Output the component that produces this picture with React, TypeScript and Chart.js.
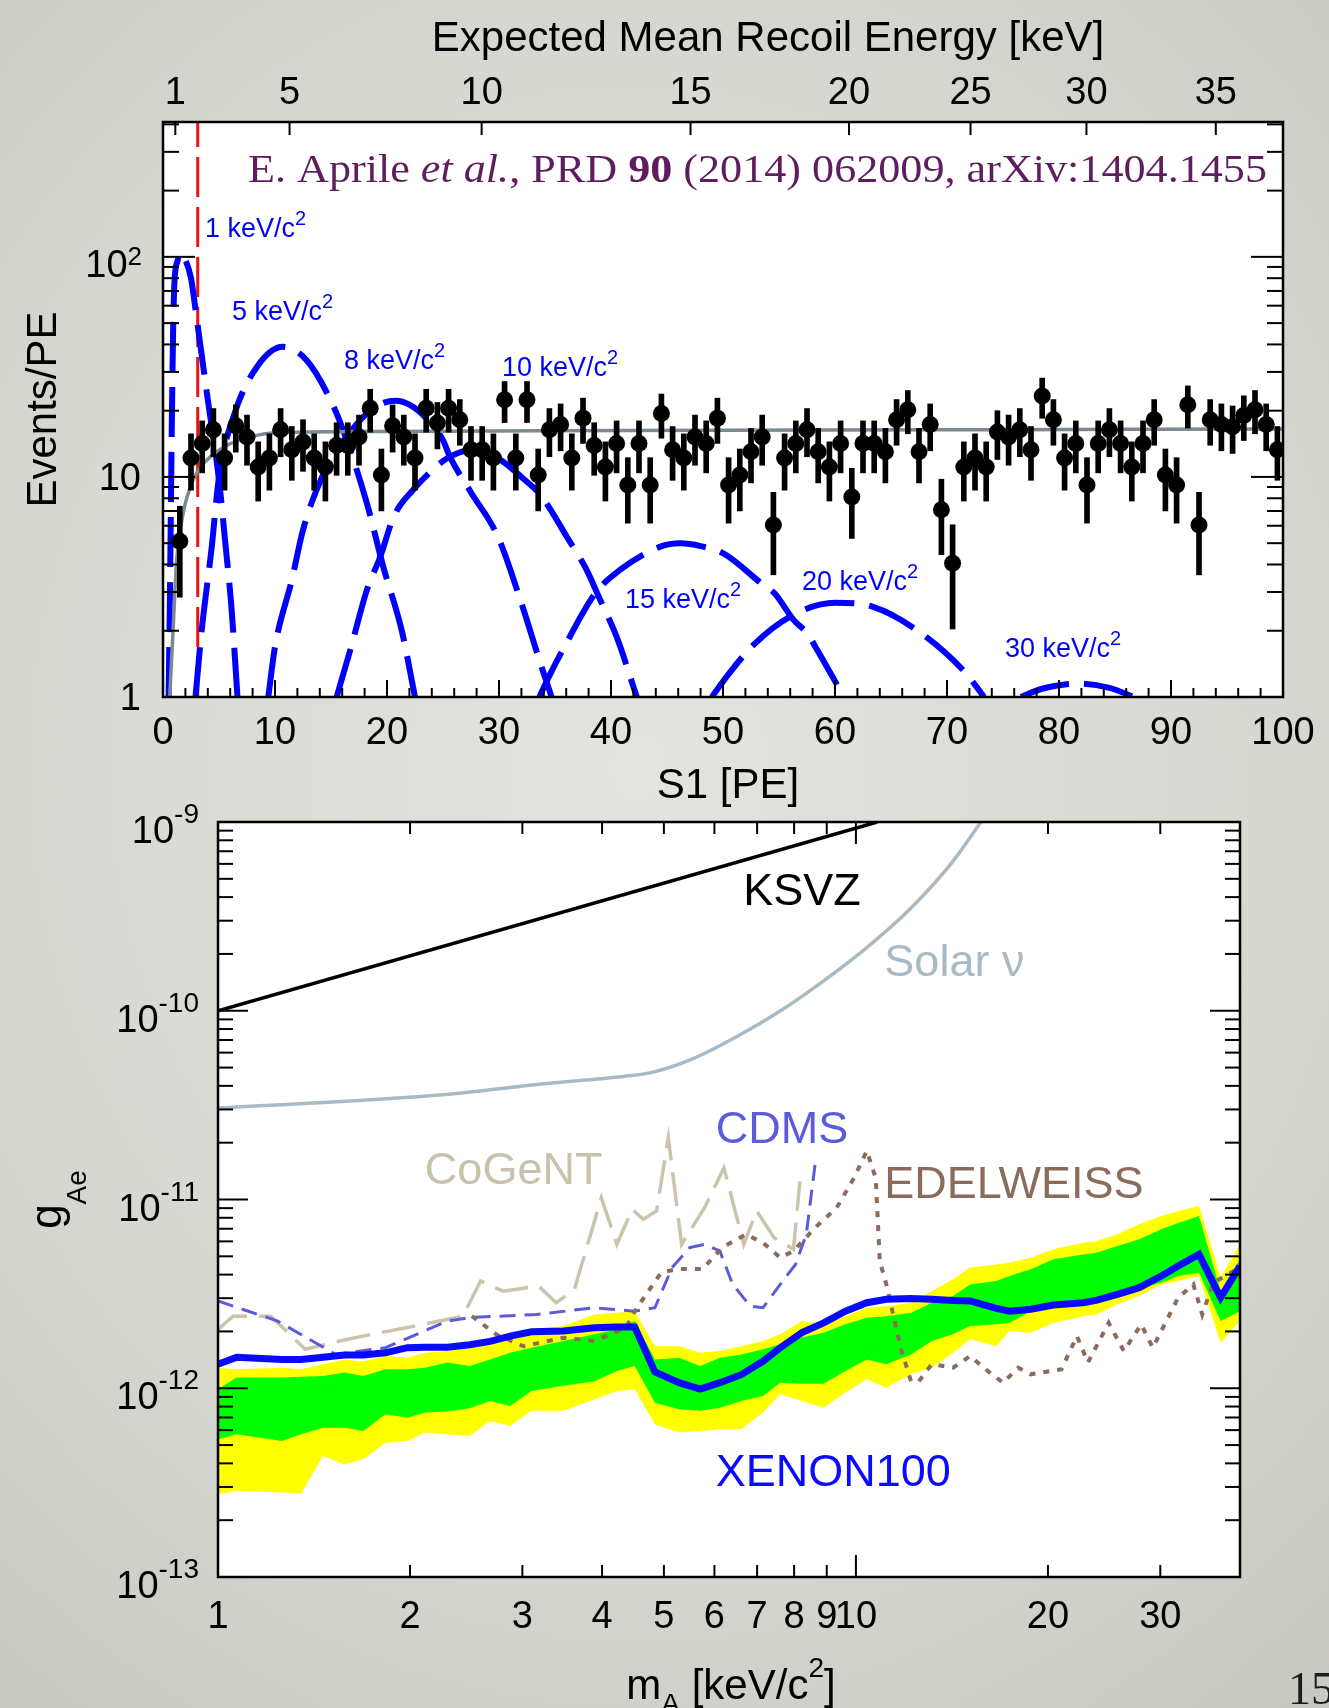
import React, { useEffect, useRef } from "react";
import { Chart, registerables } from "chart.js";

Chart.register(...registerables);

const PAGE_W = 1329;
const PAGE_H = 1708;
const SANS = '"Liberation Sans", Arial, Helvetica, sans-serif';
const SERIF = '"Liberation Serif", "Times New Roman", serif';

/* ================= Top panel: S1 spectrum ================= */
const s1BinCenters = [
  1.5, 2.5, 3.5, 4.5, 5.5, 6.5, 7.5, 8.5, 9.5, 10.5,
  11.5, 12.5, 13.5, 14.5, 15.5, 16.5, 17.5, 18.5, 19.5, 20.5,
  21.5, 22.5, 23.5, 24.5, 25.5, 26.5, 27.5, 28.5, 29.5, 30.5,
  31.5, 32.5, 33.5, 34.5, 35.5, 36.5, 37.5, 38.5, 39.5, 40.5,
  41.5, 42.5, 43.5, 44.5, 45.5, 46.5, 47.5, 48.5, 49.5, 50.5,
  51.5, 52.5, 53.5, 54.5, 55.5, 56.5, 57.5, 58.5, 59.5, 60.5,
  61.5, 62.5, 63.5, 64.5, 65.5, 66.5, 67.5, 68.5, 69.5, 70.5,
  71.5, 72.5, 73.5, 74.5, 75.5, 76.5, 77.5, 78.5, 79.5, 80.5,
  81.5, 82.5, 83.5, 84.5, 85.5, 86.5, 87.5, 88.5, 89.5, 90.5,
  91.5, 92.5, 93.5, 94.5, 95.5, 96.5, 97.5, 98.5, 99.5,
];
const eventsPerPE = [
  5.1, 12.2, 14.2, 16.4, 12.2, 17.1, 15.2, 11.1, 12.2, 16.4,
  13.3, 14.4, 12.2, 11.1, 13.9, 13.9, 15.2, 20.5, 10.2, 17.1,
  15.2, 12.2, 20.5, 17.6, 20.5, 18.2, 13.3, 13.3, 12.2, 22.4,
  12.2, 22.4, 10.2, 16.4, 17.3, 12.2, 18.5, 13.9, 11.1, 14.2,
  9.2, 14.2, 9.2, 19.4, 13.3, 12.2, 15.2, 14.2, 18.5, 9.2,
  10.2, 13.0, 15.2, 6.05, 12.2, 14.2, 16.4, 13.0, 11.1, 14.2,
  8.1, 14.2, 14.2, 13.0, 18.2, 20.2, 13.0, 17.3, 7.1, 4.05,
  11.1, 12.2, 11.1, 16.0, 15.2, 16.4, 13.3, 23.3, 18.2, 12.2,
  14.2, 9.2, 14.2, 16.4, 14.2, 11.1, 14.2, 18.2, 10.2, 9.2,
  21.3, 6.05, 18.2, 17.3, 16.9, 19.0, 20.2, 17.3, 13.3,
];

const bkgS1 = [0.6, 0.9, 1.2, 1.8, 2.7, 3.9, 5.7, 7.8, 10.4, 20, 50, 75, 100];
const bkgRate = [1.0, 2.02, 4.05, 6.83, 9.7, 11.9, 13.9, 15.2, 15.9, 16.1, 16.3, 16.4, 16.5];

const sig1S1 = [0.5, 0.6, 0.7, 0.8, 0.9, 1.0, 1.3, 1.6, 2.0, 2.5, 3.0, 4.0, 5.0, 5.6, 6.1, 6.65];
const sig1Rate = [1, 2.4, 6.9, 19.6, 45, 73, 96, 104, 97, 80, 53, 22.4, 9.7, 4.8, 2.6, 1];
const sig5S1 = [2.9, 3.45, 4.35, 5.0, 6.4, 8.4, 10.7, 12.8, 15.1, 16.4, 18.2, 19.7, 21.3, 22.5];
const sig5Rate = [1, 2.0, 4.8, 10, 19.5, 31.7, 39, 34, 21.6, 14.7, 7.6, 3.85, 2.02, 1];
const sig8S1 = [9.4, 10.0, 11.5, 12.5, 13.7, 15.0, 16.5, 18.0, 19.5, 20.8, 22.0, 23.5, 25.0, 25.6, 27.5, 29.9, 32.0, 33.7, 34.7];
const sig8Rate = [1, 1.69, 3.4, 5.74, 8.7, 12, 15.5, 19, 21.5, 22.2, 21.3, 18.5, 14.7, 12.4, 8.5, 5.35, 2.67, 1.42, 1];
const sig10S1 = [15.5, 16.8, 18.2, 19.4, 20.6, 22.3, 24.1, 25.3, 27.3, 29.0, 30.4, 32.0, 33.7, 34.6, 36.0, 37.8, 38.9, 40.5, 42.3];
const sig10Rate = [1, 1.69, 3.06, 4.34, 6.6, 8.7, 10.8, 12.1, 13.2, 12.8, 11.7, 10.0, 8.3, 7.1, 5.4, 3.8, 2.86, 1.88, 1];
const sig15S1 = [33.6, 34.6, 35.7, 38.6, 40.8, 44.4, 46.2, 48.0, 50.0, 53.6, 54.6, 56.3, 57.5, 58.4, 60.8];
const sig15Rate = [1, 1.28, 1.64, 2.96, 3.78, 4.82, 4.99, 4.85, 4.5, 3.23, 2.96, 2.24, 1.95, 1.64, 1];
const sig20S1 = [49.0, 50.5, 52.7, 56.0, 60.0, 63.4, 67.5, 71.7, 73.3];
const sig20Rate = [1, 1.27, 1.72, 2.32, 2.68, 2.57, 1.98, 1.28, 1];
const sig30S1 = [76.6, 78.5, 81.6, 84.5, 86.7];
const sig30Rate = [1, 1.09, 1.15, 1.1, 1];

const signalCurves = [
  { mass: "1", s1: sig1S1, rate: sig1Rate },
  { mass: "5", s1: sig5S1, rate: sig5Rate },
  { mass: "8", s1: sig8S1, rate: sig8Rate },
  { mass: "10", s1: sig10S1, rate: sig10Rate },
  { mass: "15", s1: sig15S1, rate: sig15Rate },
  { mass: "20", s1: sig20S1, rate: sig20Rate },
  { mass: "30", s1: sig30S1, rate: sig30Rate },
];
// label anchors (left edge / baseline) in data coordinates
const signalLabelS1 = [3.75, 6.16, 16.16, 30.27, 41.25, 57.05, 75.18];
const signalLabelRate = [123, 51.7, 31.0, 28.8, 2.54, 3.06, 1.52];

const thresholdS1 = 3.1;
const rateAxisMin = 1;
const rateAxisMax = 410;
const s1TickValues = [0, 10, 20, 30, 40, 50, 60, 70, 80, 90, 100];
const energyTickLabels = ["1", "5", "10", "15", "20", "25", "30", "35"];
const energyTickS1 = [1.1, 11.3, 28.45, 47.1, 61.25, 72.1, 82.45, 94.0];

/* ================= Bottom panel: g_Ae limits ================= */
const G_UNIT = 1e-12;
const bandMass = [
  1.0, 1.07, 1.26, 1.35, 1.46, 1.58, 1.69, 1.83, 1.98, 2.11,
  2.29, 2.48, 2.67, 2.87, 3.1, 3.48, 3.89, 4.22, 4.5, 4.84,
  5.28, 5.7, 6.12, 6.61, 7.15, 7.61, 8.23, 8.9, 9.63, 10.4,
  11.16, 12.2, 13.15, 14.2, 15.1, 16.6, 17.4, 18.8, 20.4, 22.7,
  23.8, 25.7, 27.8, 30.1, 32.0, 34.5, 37.3, 40.0,
];
const xenonLimit = [
  1.34, 1.46, 1.42, 1.42, 1.46, 1.50, 1.50, 1.54, 1.64, 1.65,
  1.65, 1.70, 1.77, 1.89, 1.99, 2.01, 2.09, 2.11, 2.11, 1.22,
  1.07, 0.99, 1.07, 1.18, 1.39, 1.64, 1.97, 2.22, 2.56, 2.84,
  2.96, 2.99, 2.96, 2.92, 2.90, 2.65, 2.56, 2.62, 2.76, 2.84,
  2.92, 3.14, 3.41, 3.93, 4.44, 5.12, 3.02, 4.44,
];
const band2SigmaHigh = [
  1.285, 1.26, 1.285, 1.26, 1.34, 1.42, 1.39, 1.48, 1.45, 1.54,
  1.575, 1.64, 1.71, 1.89, 2.05, 2.14, 2.46, 2.51, 2.56, 1.67,
  1.67, 1.54, 1.575, 1.67, 1.78, 1.93, 2.27, 2.18, 2.41, 2.67,
  2.72, 2.84, 3.27, 3.78, 4.36, 4.53, 4.62, 4.92, 5.45, 5.9,
  6.0, 6.54, 7.39, 8.18, 8.7, 9.24, 3.86, 5.79,
];
const band1SigmaHigh = [
  0.987, 1.14, 1.14, 1.15, 1.16, 1.21, 1.16, 1.26, 1.26, 1.285,
  1.37, 1.31, 1.42, 1.54, 1.64, 1.78, 1.93, 2.05, 2.27, 1.42,
  1.45, 1.31, 1.45, 1.51, 1.61, 1.71, 1.86, 1.97, 2.18, 2.36,
  2.41, 2.51, 2.84, 3.08, 3.55, 3.70, 3.93, 4.27, 4.82, 5.12,
  5.23, 5.67, 6.15, 6.95, 7.5, 8.18, 3.27, 4.82,
];
const band1SigmaLow = [
  0.536, 0.57, 0.525, 0.57, 0.618, 0.618, 0.594, 0.728, 0.698, 0.743,
  0.752, 0.783, 0.856, 0.805, 0.967, 1.03, 1.09, 1.234, 1.31, 0.839,
  0.773, 0.759, 0.789, 0.856, 0.91, 1.07, 1.057, 1.057, 1.234, 1.42,
  1.34, 1.51, 1.78, 1.93, 2.14, 2.18, 2.22, 2.56, 2.67, 2.90,
  2.96, 3.2, 3.41, 3.62, 3.93, 4.10, 2.27, 2.56,
];
const band2SigmaLow = [
  0.274, 0.286, 0.28, 0.276, 0.4375, 0.395, 0.42, 0.515, 0.525, 0.582,
  0.57, 0.558, 0.671, 0.631, 0.759, 0.759, 0.874, 0.967, 0.987, 0.644,
  0.582, 0.594, 0.606, 0.606, 0.743, 0.929, 0.856, 0.789, 0.95, 1.115,
  1.007, 1.185, 1.285, 1.54, 1.82, 1.67, 2.01, 1.97, 2.22, 2.41,
  2.46, 2.79, 3.08, 3.55, 3.70, 3.93, 1.74, 2.27,
];

const cdmsMass = [1.0, 1.24, 1.53, 1.83, 2.29, 2.48, 3.16, 3.89, 4.5, 4.84, 5.15, 5.49, 5.79, 6.12, 6.41, 6.83, 7.15, 7.61, 8.04, 8.36, 8.63];
const cdmsG = [2.90, 2.27, 1.51, 1.64, 2.27, 2.37, 2.46, 2.67, 2.56, 2.67, 4.36, 5.56, 5.79, 5.33, 3.55, 2.72, 2.67, 3.55, 4.53, 6.54, 15.4];

const cogentMass = [1.0, 1.056, 1.21, 1.37, 1.55, 1.74, 2.04, 2.42, 2.58, 2.80, 3.18, 3.39, 3.62, 3.99, 4.22, 4.46, 4.64, 4.87, 5.08, 5.33, 5.79, 6.21, 6.67, 6.99, 7.44, 7.98, 8.17];
const cogentG = [2.05, 2.41, 2.41, 1.61, 1.78, 1.93, 2.14, 2.41, 3.70, 3.27, 3.48, 2.84, 3.34, 10.2, 5.79, 8.88, 7.85, 8.7, 21.3, 5.79, 9.05, 14.7, 5.79, 8.7, 6.28, 5.45, 12.5];

const edelweissMass = [
  2.50, 2.73, 3.01, 3.48, 3.89, 4.36, 4.5, 4.95, 5.24, 5.75,
  6.17, 6.72, 7.15, 7.61, 7.98, 8.63, 9.33, 9.93, 10.4, 10.74,
  10.9, 11.16, 11.79, 12.2, 12.55, 13.15, 14.2, 15.1, 16.1, 17.0,
  17.97, 18.8, 21.0, 22.2, 23.1, 24.9, 26.3, 28.0, 29.2, 32.0,
  33.8, 34.9, 36.3, 40.0,
];
const edelweissG = [
  2.41, 1.93, 1.67, 1.85, 1.78, 2.09, 2.56, 4.10, 4.28, 4.28,
  5.56, 6.54, 5.9, 4.92, 5.33, 7.09, 9.05, 13.0, 18.1, 13.0,
  4.72, 3.55, 1.575, 1.09, 1.09, 1.34, 1.285, 1.48, 1.234, 1.07,
  1.285, 1.185, 1.26, 1.89, 1.37, 2.22, 1.575, 2.18, 1.64, 3.02,
  3.55, 2.46, 3.62, 4.36,
];

const ksvzMass = [1.0, 10.8];
const ksvzG = [100, 1000];

const solarMass = [1.0, 2.28, 3.16, 4.35, 4.77, 5.57, 6.51, 7.62, 8.9, 10.4, 12.2, 14.2, 15.7];
const solarG = [30.5, 36, 40.7, 45, 47, 56, 73, 100, 144, 216, 350, 620, 1000];

const massAxisMin = 1;
const massAxisMax = 40;
const gAxisMin = 1e-13;
const gAxisMax = 1e-9;
const massTickLabels = [1, 2, 3, 4, 5, 6, 7, 8, 9, 10, 20, 30];
const gDecadeExponents = [-13, -12, -11, -10, -9];

// text annotations in data coordinates (left edge / baseline)
const bottomLabelText = ["KSVZ", "Solar \u03bd", "CDMS", "CoGeNT", "EDELWEISS", "XENON100"];
const bottomLabelMass = [6.66, 11.08, 6.03, 2.11, 11.08, 6.03];
const bottomLabelG = [363, 153, 19.9, 12.1, 10.2, 0.303];
const bottomLabelColor = ["#000000", "#a9bac4", "#5b5bdc", "#c9c2aa", "#8b6b5c", "#0a0aff"];

/* ================= helpers ================= */
const pts = (xs: number[], ys: number[], k = 1) => xs.map((x, i) => ({ x, y: ys[i] * k }));

function seg(ctx: CanvasRenderingContext2D, x1: number, y1: number, x2: number, y2: number) {
  ctx.beginPath();
  ctx.moveTo(x1, y1);
  ctx.lineTo(x2, y2);
  ctx.stroke();
}

type Run = { t: string; f: string; dy?: number };
function runsWidth(ctx: CanvasRenderingContext2D, runs: Run[]) {
  let w = 0;
  for (const r of runs) {
    ctx.font = r.f;
    w += ctx.measureText(r.t).width;
  }
  return w;
}
function drawRuns(ctx: CanvasRenderingContext2D, runs: Run[], x: number, y: number, align: "left" | "center" | "right") {
  const w = runsWidth(ctx, runs);
  let cx = align === "left" ? x : align === "center" ? x - w / 2 : x - w;
  ctx.textAlign = "left";
  ctx.textBaseline = "alphabetic";
  for (const r of runs) {
    ctx.font = r.f;
    ctx.fillText(r.t, cx, y + (r.dy || 0));
    cx += ctx.measureText(r.t).width;
  }
}

const plotBgPlugin = {
  id: "plotBg",
  beforeDraw(chart: any) {
    const { ctx, chartArea: a } = chart;
    ctx.save();
    ctx.fillStyle = "#ffffff";
    ctx.fillRect(a.left, a.top, a.right - a.left, a.bottom - a.top);
    ctx.restore();
  },
};

/* ---------- top panel axes / labels ---------- */
const topAxesPlugin = {
  id: "topAxes",
  afterDraw(chart: any) {
    const { ctx, chartArea: a, scales } = chart;
    const x = scales.x;
    const y = scales.y;
    ctx.save();
    ctx.strokeStyle = "#000";
    ctx.lineWidth = 2;
    for (let v = 0; v <= 100; v += 2) {
      const px = x.getPixelForValue(v);
      seg(ctx, px, a.bottom, px, a.bottom - (v % 10 === 0 ? 17 : 9));
    }
    for (const s of energyTickS1) {
      const px = x.getPixelForValue(s);
      seg(ctx, px, a.top, px, a.top + 13);
    }
    for (const d of [1, 10, 100]) {
      for (let k = 1; k <= 9; k++) {
        const v = d * k;
        if (v > rateAxisMax) break;
        const py = y.getPixelForValue(v);
        const len = k === 1 ? 32 : 16;
        seg(ctx, a.left, py, a.left + len, py);
        seg(ctx, a.right, py, a.right - len, py);
      }
    }
    ctx.lineWidth = 2.5;
    ctx.strokeRect(a.left, a.top, a.right - a.left, a.bottom - a.top);

    ctx.fillStyle = "#000";
    ctx.font = `38px ${SANS}`;
    ctx.textAlign = "center";
    ctx.textBaseline = "alphabetic";
    for (const v of s1TickValues) ctx.fillText(String(v), x.getPixelForValue(v), a.bottom + 47);
    energyTickLabels.forEach((lab, i) => {
      ctx.font = `38px ${SANS}`;
      ctx.textAlign = "center";
      ctx.fillText(lab, x.getPixelForValue(energyTickS1[i]), a.top - 18);
    });
    {
      const p1 = y.getPixelForValue(1);
      const p10 = y.getPixelForValue(10);
      const p100 = y.getPixelForValue(100);
      drawRuns(ctx, [{ t: "1", f: `38px ${SANS}` }], a.left - 22, p1 + 13, "right");
      drawRuns(ctx, [{ t: "10", f: `38px ${SANS}` }], a.left - 22, p10 + 13, "right");
      drawRuns(ctx, [{ t: "10", f: `38px ${SANS}` }, { t: "2", f: `26px ${SANS}`, dy: -12 }], a.left - 21, p100 + 20, "right");
    }
    drawRuns(ctx, [{ t: "S1 [PE]", f: `42px ${SANS}` }], (a.left + a.right) / 2 + 5, a.bottom + 101, "center");
    drawRuns(ctx, [{ t: "Expected Mean Recoil Energy [keV]", f: `42px ${SANS}` }], (a.left + a.right) / 2 + 45, a.top - 71, "center");
    ctx.save();
    ctx.translate(56, (a.top + a.bottom) / 2);
    ctx.rotate(-Math.PI / 2);
    drawRuns(ctx, [{ t: "Events/PE", f: `42px ${SANS}` }], 0, 0, "center");
    ctx.restore();

    {
      const runs: Run[] = [
        { t: "E. Aprile ", f: `40px ${SERIF}` },
        { t: "et al.", f: `italic 40px ${SERIF}` },
        { t: ", PRD ", f: `40px ${SERIF}` },
        { t: "90", f: `bold 40px ${SERIF}` },
        { t: " (2014) 062009, arXiv:1404.1455", f: `40px ${SERIF}` },
      ];
      const w = runsWidth(ctx, runs);
      const targetW = 1019;
      ctx.save();
      ctx.fillStyle = "#5e1d5e";
      ctx.translate(a.left + 85, a.top + 60);
      ctx.scale(targetW / w, 1);
      drawRuns(ctx, runs, 0, 0, "left");
      ctx.restore();
    }

    ctx.fillStyle = "#0000ff";
    signalCurves.forEach((c, i) => {
      const lx = x.getPixelForValue(signalLabelS1[i]);
      const ly = y.getPixelForValue(signalLabelRate[i]);
      drawRuns(ctx, [
        { t: `${c.mass} keV/c`, f: `27px ${SANS}` },
        { t: "2", f: `20px ${SANS}`, dy: -12 },
      ], lx, ly, "left");
    });
    ctx.restore();
  },
};

/* ---------- bottom panel axes / labels ---------- */
const bottomAxesPlugin = {
  id: "bottomAxes",
  afterDraw(chart: any) {
    const { ctx, chartArea: a, scales } = chart;
    const x = scales.x;
    const y = scales.y;
    ctx.save();
    ctx.strokeStyle = "#000";
    ctx.lineWidth = 2;
    for (const d of [1, 10]) {
      for (let k = 1; k <= 9; k++) {
        const v = d * k;
        if (v > massAxisMax) break;
        const px = x.getPixelForValue(v);
        const len = k === 1 ? 22 : 12;
        seg(ctx, px, a.bottom, px, a.bottom - len);
        seg(ctx, px, a.top, px, a.top + len);
      }
    }
    for (const e of gDecadeExponents) {
      for (let k = 1; k <= 9; k++) {
        const v = k * Math.pow(10, e);
        if (v > gAxisMax * 1.0001) break;
        const py = y.getPixelForValue(v);
        const len = k === 1 ? 30 : 15;
        seg(ctx, a.left, py, a.left + len, py);
        seg(ctx, a.right, py, a.right - len, py);
      }
    }
    ctx.lineWidth = 2.5;
    ctx.strokeRect(a.left, a.top, a.right - a.left, a.bottom - a.top);

    ctx.fillStyle = "#000";
    for (const v of massTickLabels) {
      drawRuns(ctx, [{ t: String(v), f: `38px ${SANS}` }], x.getPixelForValue(v), a.bottom + 51, "center");
    }
    for (const e of gDecadeExponents) {
      const py = y.getPixelForValue(Math.pow(10, e));
      drawRuns(ctx, [
        { t: "10", f: `38px ${SANS}` },
        { t: String(e), f: `28px ${SANS}`, dy: -20 },
      ], a.left - 19, py + 21, "right");
    }
    drawRuns(ctx, [
      { t: "m", f: `42px ${SANS}` },
      { t: "A", f: `28px ${SANS}`, dy: 14 },
      { t: " [keV/c", f: `42px ${SANS}` },
      { t: "2", f: `28px ${SANS}`, dy: -22 },
      { t: "]", f: `42px ${SANS}` },
    ], (a.left + a.right) / 2 + 2, a.bottom + 122, "center");
    ctx.save();
    ctx.translate(61, (a.top + a.bottom) / 2);
    ctx.rotate(-Math.PI / 2);
    drawRuns(ctx, [
      { t: "g", f: `44px ${SANS}` },
      { t: "Ae", f: `28px ${SANS}`, dy: 25 },
    ], 0, 0, "center");
    ctx.restore();

    bottomLabelText.forEach((t, i) => {
      ctx.fillStyle = bottomLabelColor[i];
      drawRuns(ctx, [{ t, f: `45px ${SANS}` }], x.getPixelForValue(bottomLabelMass[i]), y.getPixelForValue(bottomLabelG[i] * G_UNIT), "left");
    });

    ctx.fillStyle = "#1c1c1c";
    drawRuns(ctx, [{ t: "15", f: `46px ${SERIF}` }], 1288, 1704, "left");
    ctx.restore();
  },
};

function topConfig(): any {
  return {
    type: "scatter",
    data: {
      datasets: [
        {
          type: "scatter",
          label: "Data",
          data: pts(s1BinCenters, eventsPerPE),
          pointRadius: 8.5,
          pointHoverRadius: 8.5,
          backgroundColor: "#000",
          borderColor: "#000",
          borderWidth: 0,
          order: 0,
        },
        {
          type: "bar",
          label: "Poisson errors",
          data: s1BinCenters.map((x, i) => {
            const v = eventsPerPE[i];
            const e = Math.sqrt(v);
            return { x, y: [v - e, v + e] };
          }),
          backgroundColor: "#000",
          borderWidth: 0,
          barThickness: 5,
          order: 1,
        },
        {
          type: "line",
          label: "Background",
          data: pts(bkgS1, bkgRate),
          borderColor: "#7a8a90",
          borderWidth: 3.5,
          pointRadius: 0,
          cubicInterpolationMode: "monotone",
          fill: false,
          order: 2,
        },
        ...signalCurves.map((c) => ({
          type: "line",
          label: `${c.mass} keV/c2`,
          data: pts(c.s1, c.rate),
          borderColor: "#0000ff",
          borderWidth: 6,
          borderDash: [50, 15],
          pointRadius: 0,
          cubicInterpolationMode: "monotone",
          fill: false,
          order: 3,
        })),
        {
          type: "line",
          label: "Threshold",
          data: [
            { x: thresholdS1, y: rateAxisMin },
            { x: thresholdS1, y: rateAxisMax },
          ],
          borderColor: "#ee1111",
          borderWidth: 3,
          borderDash: [40, 10],
          pointRadius: 0,
          fill: false,
          order: 4,
        },
      ],
    },
    options: {
      animation: false,
      responsive: false,
      devicePixelRatio: 1,
      events: [],
      layout: { padding: { left: 163, right: PAGE_W - 1283, top: 122, bottom: PAGE_H - 697 } },
      plugins: { legend: { display: false }, tooltip: { enabled: false }, title: { display: false } },
      scales: {
        x: { type: "linear", min: 0, max: 100, display: false, offset: false },
        y: { type: "logarithmic", min: rateAxisMin, max: rateAxisMax, display: false },
      },
    },
    plugins: [plotBgPlugin, topAxesPlugin],
  };
}

function bottomConfig(): any {
  const bandDs = (vals: number[], fill: any, color: string, order: number, label: string) => ({
    type: "line",
    label,
    data: pts(bandMass, vals, G_UNIT),
    borderWidth: 0,
    borderColor: "rgba(0,0,0,0)",
    pointRadius: 0,
    fill,
    backgroundColor: color,
    order,
  });
  return {
    type: "line",
    data: {
      datasets: [
        bandDs(band2SigmaLow, false, "rgba(0,0,0,0)", 20, "2 sigma low"),
        bandDs(band2SigmaHigh, "-1", "#ffff00", 20, "2 sigma"),
        bandDs(band1SigmaLow, false, "rgba(0,0,0,0)", 19, "1 sigma low"),
        bandDs(band1SigmaHigh, "-1", "#00ff00", 19, "1 sigma"),
        {
          label: "KSVZ",
          data: pts(ksvzMass, ksvzG, G_UNIT),
          borderColor: "#000",
          borderWidth: 3.5,
          pointRadius: 0,
          fill: false,
          order: 6,
        },
        {
          label: "Solar nu",
          data: pts(solarMass, solarG, G_UNIT),
          borderColor: "#a9bac4",
          borderWidth: 3.5,
          pointRadius: 0,
          cubicInterpolationMode: "monotone",
          fill: false,
          order: 6,
        },
        {
          label: "CoGeNT",
          data: pts(cogentMass, cogentG, G_UNIT),
          borderColor: "#cbc4ad",
          borderWidth: 3.5,
          borderDash: [34, 12],
          pointRadius: 0,
          fill: false,
          order: 5,
        },
        {
          label: "CDMS",
          data: pts(cdmsMass, cdmsG, G_UNIT),
          borderColor: "#5b5bdc",
          borderWidth: 3,
          borderDash: [16, 9],
          pointRadius: 0,
          fill: false,
          order: 4,
        },
        {
          label: "EDELWEISS",
          data: pts(edelweissMass, edelweissG, G_UNIT),
          borderColor: "#8b6b5c",
          borderWidth: 4,
          borderDash: [6, 8],
          pointRadius: 0,
          fill: false,
          order: 3,
        },
        {
          label: "XENON100",
          data: pts(bandMass, xenonLimit, G_UNIT),
          borderColor: "#0a0aff",
          borderWidth: 7,
          pointRadius: 0,
          fill: false,
          order: 0,
        },
      ],
    },
    options: {
      animation: false,
      responsive: false,
      devicePixelRatio: 1,
      events: [],
      layout: { padding: { left: 218, right: PAGE_W - 1240, top: 822, bottom: PAGE_H - 1577 } },
      plugins: { legend: { display: false }, tooltip: { enabled: false }, title: { display: false } },
      scales: {
        x: { type: "logarithmic", min: massAxisMin, max: massAxisMax, display: false },
        y: { type: "logarithmic", min: gAxisMin, max: gAxisMax, display: false },
      },
    },
    plugins: [plotBgPlugin, bottomAxesPlugin],
  };
}

export default function App() {
  const topRef = useRef<HTMLCanvasElement | null>(null);
  const botRef = useRef<HTMLCanvasElement | null>(null);

  useEffect(() => {
    const c1 = new Chart(topRef.current as HTMLCanvasElement, topConfig());
    const c2 = new Chart(botRef.current as HTMLCanvasElement, bottomConfig());
    return () => {
      c1.destroy();
      c2.destroy();
    };
  }, []);

  const canvasStyle: React.CSSProperties = { position: "absolute", left: 0, top: 0, width: PAGE_W, height: PAGE_H };
  return (
    <div
      style={{
        position: "absolute",
        left: 0,
        top: 0,
        width: PAGE_W,
        height: PAGE_H,
        overflow: "hidden",
        background: "radial-gradient(ellipse 80% 70% at 48% 45%, #e3e3df 0%, #d9d9d4 55%, #c9c9c2 100%)",
      }}
    >
      <canvas ref={topRef} width={PAGE_W} height={PAGE_H} style={canvasStyle} />
      <canvas ref={botRef} width={PAGE_W} height={PAGE_H} style={canvasStyle} />
    </div>
  );
}
